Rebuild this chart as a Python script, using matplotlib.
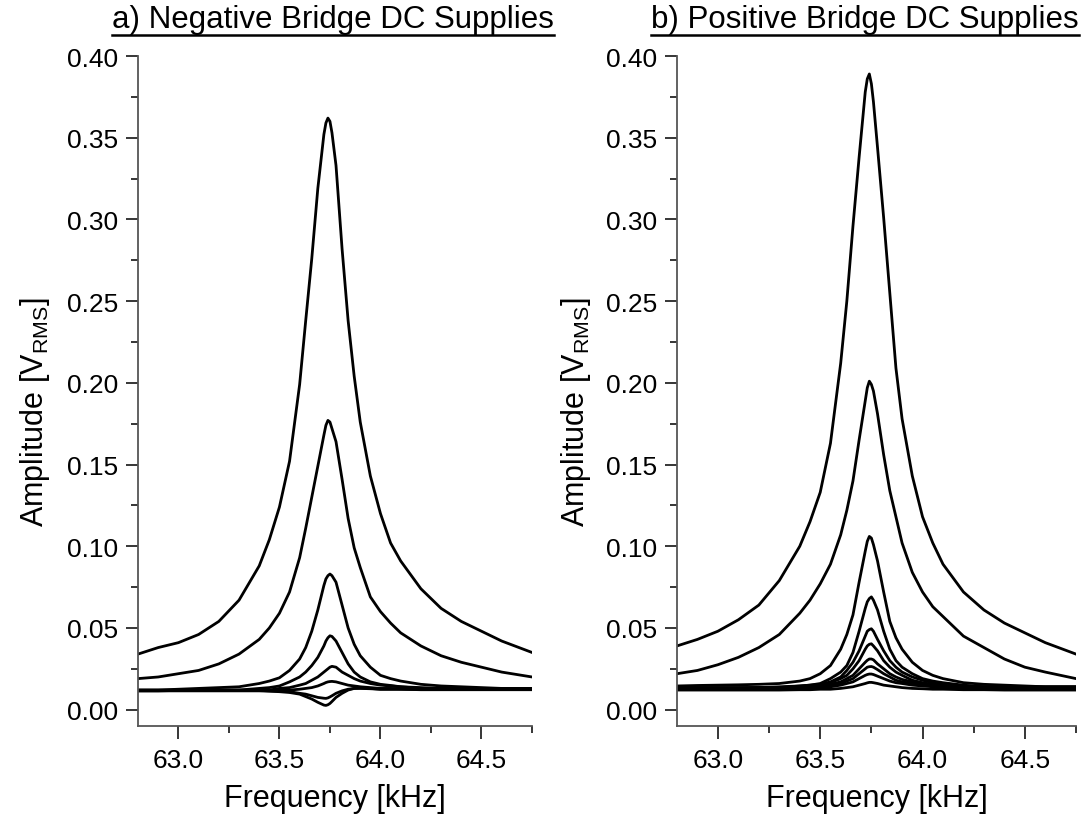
import matplotlib
matplotlib.use("Agg")
import matplotlib.pyplot as plt
from matplotlib.ticker import MultipleLocator, FormatStrFormatter
from matplotlib.lines import Line2D

plt.rcParams['font.family'] = ['Liberation Sans', 'DejaVu Sans']
plt.rcParams['mathtext.fontset'] = 'custom'
plt.rcParams['mathtext.rm'] = 'Liberation Sans'
plt.rcParams['mathtext.it'] = 'Liberation Sans'

# ---------------- data ----------------
freq = [62.8, 62.9, 63.0, 63.1, 63.2, 63.3, 63.4, 63.45, 63.5, 63.55, 63.6, 63.63,
        63.66, 63.69, 63.72, 63.73, 63.74, 63.75, 63.76, 63.78, 63.81, 63.84, 63.87, 63.9, 63.95,
        64.0, 64.05, 64.1, 64.2, 64.3, 64.4, 64.5, 64.6, 64.75]

# Panel a: negative bridge DC supplies
neg_1 = [0.034, 0.038, 0.041, 0.046, 0.054, 0.067, 0.088, 0.104, 0.124, 0.152, 0.199, 0.238,
         0.276, 0.319, 0.352, 0.359, 0.362, 0.360, 0.353, 0.333, 0.282, 0.238, 0.204, 0.176, 0.143,
         0.120, 0.102, 0.091, 0.074, 0.062, 0.054, 0.048, 0.042, 0.035]
neg_2 = [0.019, 0.020, 0.022, 0.024, 0.028, 0.034, 0.043, 0.050, 0.059, 0.072, 0.093, 0.111,
         0.130, 0.149, 0.168, 0.174, 0.177, 0.176, 0.172, 0.164, 0.141, 0.117, 0.099, 0.087, 0.069,
         0.060, 0.053, 0.047, 0.039, 0.033, 0.029, 0.026, 0.023, 0.020]
neg_3 = [0.012, 0.012, 0.0125, 0.013, 0.0135, 0.014, 0.016, 0.0175, 0.0195, 0.024, 0.031, 0.038,
         0.048, 0.061, 0.076, 0.080, 0.082, 0.083, 0.082, 0.078, 0.064, 0.050, 0.040, 0.033, 0.026,
         0.021, 0.019, 0.0175, 0.0155, 0.0145, 0.014, 0.0135, 0.013, 0.013]
neg_4 = [0.012, 0.012, 0.012, 0.012, 0.012, 0.012, 0.013, 0.0135, 0.0145, 0.017, 0.020, 0.023,
         0.027, 0.032, 0.039, 0.042, 0.044, 0.0452, 0.0448, 0.042, 0.035, 0.028, 0.023, 0.020, 0.017,
         0.0155, 0.0148, 0.014, 0.0135, 0.013, 0.013, 0.013, 0.013, 0.013]
neg_5 = [0.0118, 0.0118, 0.0118, 0.012, 0.012, 0.012, 0.012, 0.012, 0.013, 0.0135, 0.015, 0.016,
         0.018, 0.020, 0.023, 0.024, 0.025, 0.026, 0.0265, 0.026, 0.023, 0.021, 0.019, 0.0175, 0.016,
         0.015, 0.0145, 0.014, 0.013, 0.013, 0.013, 0.0128, 0.0128, 0.0128]
neg_6 = [0.0115, 0.0115, 0.0118, 0.0118, 0.0118, 0.0118, 0.0118, 0.0118, 0.012, 0.012, 0.0125, 0.013,
         0.0135, 0.0145, 0.016, 0.0166, 0.017, 0.0172, 0.0173, 0.017, 0.016, 0.015, 0.0145, 0.014, 0.0135,
         0.013, 0.013, 0.0128, 0.0125, 0.0125, 0.0125, 0.0125, 0.0125, 0.0125]
neg_7 = [0.0118, 0.0118, 0.0118, 0.0118, 0.0118, 0.0118, 0.0118, 0.0115, 0.0113, 0.011, 0.010, 0.0095,
         0.0085, 0.0075, 0.007, 0.0069, 0.0072, 0.0078, 0.0085, 0.010, 0.0115, 0.0125, 0.013, 0.013, 0.0128,
         0.0125, 0.0125, 0.0125, 0.0125, 0.0125, 0.0125, 0.0125, 0.0125, 0.0125]
neg_8 = [0.0115, 0.0115, 0.0115, 0.0115, 0.0115, 0.0115, 0.0115, 0.0113, 0.011, 0.0105, 0.0095, 0.008,
         0.0065, 0.0045, 0.0028, 0.0026, 0.003, 0.0038, 0.005, 0.0075, 0.010, 0.012, 0.013, 0.0132, 0.013,
         0.0125, 0.0125, 0.0125, 0.0122, 0.0122, 0.0122, 0.0122, 0.0122, 0.0122]
neg_series = [neg_1, neg_2, neg_3, neg_4, neg_5, neg_6, neg_7, neg_8]

# Panel b: positive bridge DC supplies
pos_1 = [0.039, 0.043, 0.048, 0.055, 0.064, 0.079, 0.100, 0.115, 0.133, 0.163, 0.212, 0.250,
         0.296, 0.338, 0.378, 0.386, 0.389, 0.383, 0.372, 0.344, 0.301, 0.255, 0.209, 0.178, 0.143,
         0.118, 0.102, 0.089, 0.072, 0.061, 0.053, 0.047, 0.041, 0.034]
pos_2 = [0.022, 0.024, 0.0275, 0.032, 0.038, 0.046, 0.059, 0.067, 0.077, 0.089, 0.107, 0.122,
         0.140, 0.165, 0.189, 0.197, 0.201, 0.199, 0.195, 0.181, 0.156, 0.134, 0.118, 0.102, 0.084,
         0.072, 0.063, 0.057, 0.045, 0.038, 0.031, 0.026, 0.023, 0.019]
pos_3 = [0.0145, 0.0148, 0.015, 0.0152, 0.0155, 0.016, 0.0175, 0.019, 0.022, 0.027, 0.037, 0.046,
         0.058, 0.078, 0.097, 0.103, 0.106, 0.105, 0.101, 0.091, 0.072, 0.054, 0.044, 0.037, 0.029,
         0.024, 0.021, 0.019, 0.0165, 0.0155, 0.015, 0.0145, 0.014, 0.014]
pos_4 = [0.0135, 0.0135, 0.0135, 0.0135, 0.0135, 0.0135, 0.0145, 0.015, 0.016, 0.019, 0.023, 0.027,
         0.035, 0.048, 0.062, 0.066, 0.068, 0.069, 0.067, 0.061, 0.048, 0.037, 0.030, 0.026, 0.022,
         0.019, 0.0175, 0.0165, 0.015, 0.014, 0.014, 0.0138, 0.0138, 0.0138]
pos_5 = [0.0135, 0.0135, 0.0135, 0.0135, 0.0135, 0.014, 0.0145, 0.015, 0.0155, 0.017, 0.020, 0.024,
         0.029, 0.036, 0.045, 0.048, 0.049, 0.0495, 0.048, 0.043, 0.036, 0.030, 0.026, 0.023, 0.020,
         0.018, 0.0165, 0.0155, 0.0145, 0.014, 0.014, 0.014, 0.014, 0.014]
pos_6 = [0.013, 0.013, 0.013, 0.013, 0.0135, 0.0135, 0.014, 0.0145, 0.015, 0.0165, 0.019, 0.021,
         0.025, 0.030, 0.037, 0.039, 0.040, 0.0403, 0.039, 0.036, 0.030, 0.026, 0.023, 0.021, 0.018,
         0.0165, 0.0155, 0.015, 0.014, 0.014, 0.0135, 0.0135, 0.0135, 0.0135]
pos_7 = [0.013, 0.013, 0.013, 0.013, 0.013, 0.0135, 0.0135, 0.014, 0.0145, 0.0155, 0.017, 0.019,
         0.021, 0.025, 0.029, 0.0302, 0.031, 0.031, 0.0305, 0.028, 0.025, 0.022, 0.020, 0.0185, 0.017,
         0.0155, 0.015, 0.0145, 0.014, 0.0135, 0.0135, 0.0135, 0.0135, 0.0135]
pos_8 = [0.0125, 0.0125, 0.0125, 0.013, 0.013, 0.013, 0.013, 0.0135, 0.014, 0.015, 0.016, 0.0175,
         0.019, 0.022, 0.025, 0.026, 0.0263, 0.0264, 0.026, 0.0245, 0.022, 0.020, 0.018, 0.017, 0.016,
         0.015, 0.0145, 0.014, 0.0135, 0.013, 0.013, 0.013, 0.013, 0.013]
pos_9 = [0.0125, 0.0125, 0.0125, 0.0125, 0.0125, 0.0125, 0.013, 0.013, 0.0135, 0.014, 0.015, 0.016,
         0.017, 0.019, 0.021, 0.0215, 0.0218, 0.0218, 0.0215, 0.0205, 0.019, 0.0175, 0.0165, 0.016, 0.015,
         0.0145, 0.014, 0.0135, 0.013, 0.013, 0.0128, 0.0128, 0.0128, 0.0128]
pos_10 = [0.012, 0.012, 0.012, 0.012, 0.012, 0.012, 0.0122, 0.0122, 0.0125, 0.0125, 0.013, 0.0135,
          0.014, 0.015, 0.016, 0.0164, 0.0167, 0.0167, 0.0165, 0.016, 0.015, 0.0145, 0.014, 0.0135, 0.013,
          0.0128, 0.0125, 0.0125, 0.0122, 0.0122, 0.012, 0.012, 0.012, 0.012]
pos_series = [pos_1, pos_2, pos_3, pos_4, pos_5, pos_6, pos_7, pos_8, pos_9, pos_10]

titles = ["a) Negative Bridge DC Supplies", "b) Positive Bridge DC Supplies"]
xlabel = "Frequency [kHz]"
ylabel = r"Amplitude [V$_{\mathrm{RMS}}$]"
xticks = [63.0, 63.5, 64.0, 64.5]
yticks = [0.00, 0.05, 0.10, 0.15, 0.20, 0.25, 0.30, 0.35, 0.40]

# ---------------- figure ----------------
W, H = 1088, 828
fig = plt.figure(figsize=(W / 100, H / 100), dpi=100)

ax_a = fig.add_axes([138 / W, 1 - 727 / H, 394 / W, 670 / H])
ax_b = fig.add_axes([677 / W, 1 - 727 / H, 399 / W, 670 / H])

for ax, series in ((ax_a, neg_series), (ax_b, pos_series)):
    for s in series:
        ax.plot(freq, s, color='black', lw=2.0, solid_joinstyle='round')
    ax.set_xlim(62.8, 64.75)
    ax.set_ylim(-0.01, 0.40)
    ax.set_xticks(xticks)
    ax.set_yticks(yticks)
    ax.xaxis.set_minor_locator(MultipleLocator(0.25))
    ax.yaxis.set_minor_locator(MultipleLocator(0.025))
    ax.xaxis.set_major_formatter(FormatStrFormatter('%.1f'))
    ax.yaxis.set_major_formatter(FormatStrFormatter('%.2f'))
    for side in ('top', 'right'):
        ax.spines[side].set_visible(False)
    for side in ('left', 'bottom'):
        ax.spines[side].set_linewidth(1.3)
        ax.spines[side].set_color('#555555')
    ax.tick_params(which='major', direction='out', length=9, width=1.1, labelsize=19, pad=5, color='black')
    ax.tick_params(which='minor', direction='out', length=5, width=1.1, color='black')
    ax.tick_params(axis='x', which='major', pad=7)
    ax.set_xlabel(xlabel, fontsize=22)
    ax.set_ylabel(ylabel, fontsize=22)
    ax.xaxis.set_label_coords(0.5, -0.085)
    ax.patch.set_visible(False)

ax_a.yaxis.set_label_coords(-0.218, 0.47)
ax_b.yaxis.set_label_coords(-0.21, 0.47)

# titles with underline
title_pos = [(333 / W, 1 - 20 / H), (865 / W, 1 - 20 / H)]
fig.canvas.draw()
renderer = fig.canvas.get_renderer()
for t, (x, y) in zip(titles, title_pos):
    txt = fig.text(x, y, t, fontsize=22.5, ha='center', va='center')
    bb = txt.get_window_extent(renderer=renderer)
    uy = (bb.y0 - 1) / H
    fig.add_artist(Line2D([bb.x0 / W, bb.x1 / W], [uy, uy], color='black', lw=1.8,
                          transform=fig.transFigure))

fig.savefig("out.png", dpi=100)
